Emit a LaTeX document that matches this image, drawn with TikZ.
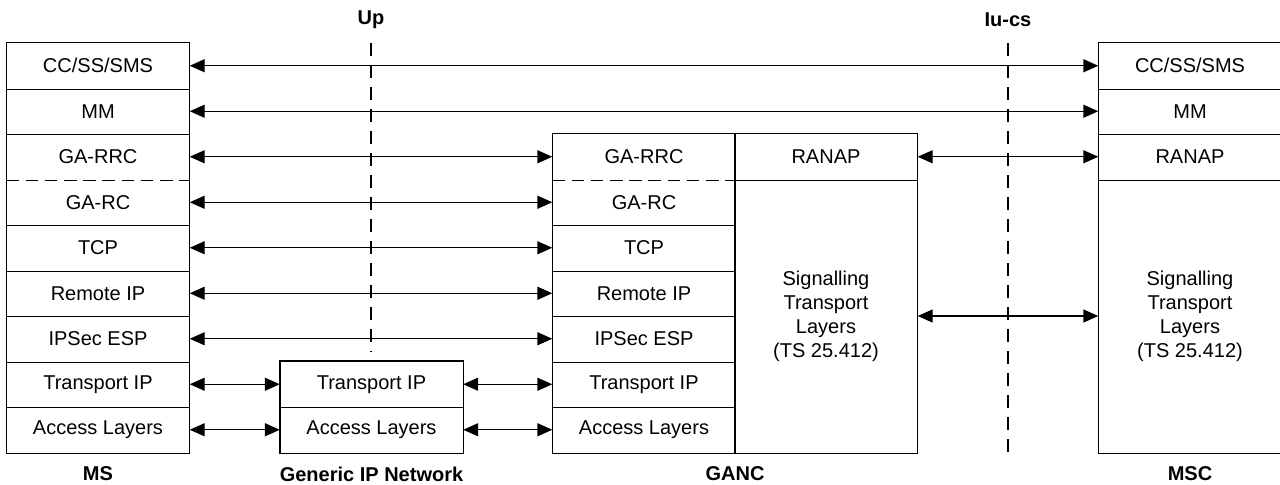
\documentclass[tikz,border=0pt]{standalone}
\usepackage{fontspec}
\setmainfont{Liberation Sans}
\usetikzlibrary{arrows.meta}

\begin{document}
\begin{tikzpicture}[x=0.5pt, y=-0.5pt, line width=0.7pt,
    cell/.style={minimum width=91pt, minimum height=22.75pt, inner sep=0pt},
    tall/.style={cell, minimum height=136.5pt, align=center},
    link/.style={{Triangle[length=7.5pt,width=6.5pt]}-{Triangle[length=7.5pt,width=6.5pt]}},
    iface/.style={dash pattern=on 6.5pt off 4.5pt, line width=0.6pt},
    split/.style={dash pattern=on 6.3pt off 3.3pt},
    title/.style={font=\bfseries}]
    \useasboundingbox (0,0) rectangle (1280,484);

    % --- MS stack ---
    \foreach \t [count=\i] in {{CC/SS/SMS},MM,GA-RRC,GA-RC,TCP,Remote IP,IPSec ESP,Transport IP,Access Layers}
        \node[cell] (ms\i) at (98, {43+45.5*(\i-0.5)}) {\t};
    \draw (ms1.north west) rectangle (ms9.south east);
    \foreach \i in {1,2,4,5,6,7,8} \draw (ms\i.south west) -- (ms\i.south east);
    \draw[split] (ms3.south west) -- (ms3.south east);

    % --- Generic IP Network ---
    \node[cell] (ip1) at (371.5, 384.25) {Transport IP};
    \node[cell] (ip2) at (371.5, 429.75) {Access Layers};
    \draw (ip1.north west) rectangle (ip2.south east);
    \draw (ip1.south west) -- (ip1.south east);

    % --- GANC ---
    \foreach \t [count=\i from 3] in {GA-RRC,GA-RC,TCP,Remote IP,IPSec ESP,Transport IP,Access Layers}
        \node[cell] (ga\i) at (644, {43+45.5*(\i-0.5)}) {\t};
    \node[cell] (ranap1) at (826, 156.75) {RANAP};
    \node[tall] (stl1) at (826, 316) {Signalling\\Transport\\Layers\\(TS 25.412)};
    \draw (ga3.north west) rectangle (ga9.south east);
    \draw (ranap1.north west) rectangle (stl1.south east);
    \draw (ranap1.south west) -- (ranap1.south east);
    \foreach \i in {4,...,8} \draw (ga\i.south west) -- (ga\i.south east);
    \draw[split] (ga3.south west) -- (ga3.south east);

    % --- MSC ---
    \node[cell] (msc1) at (1190, 65.75) {CC/SS/SMS};
    \node[cell] (msc2) at (1190, 111.25) {MM};
    \node[cell] (msc3) at (1190, 156.75) {RANAP};
    \node[tall] (msc4) at (1190, 316) {Signalling\\Transport\\Layers\\(TS 25.412)};
    \draw (msc1.north west) rectangle (msc4.south east);
    \foreach \i in {1,2,3} \draw (msc\i.south west) -- (msc\i.south east);

    % --- interfaces Up and Iu-cs ---
    \node[title] (up) at (371, 20) {Up};
    \node[title] (iucs) at (1008, 20) {Iu-cs};
    \coordinate (uptop) at (371, 43);   \coordinate (upbot) at (371, 352);
    \coordinate (iutop) at (1008, 43);  \coordinate (iubot) at (1008, 453);
    \draw[iface] (uptop) -- (upbot);
    \draw[iface] (iutop) -- (iubot);

    % --- peer links ---
    \draw[link] (ms1.east) -- (msc1.west);
    \draw[link] (ms2.east) -- (msc2.west);
    \foreach \i in {3,...,7} \draw[link] (ms\i.east) -- (ga\i.west);
    \foreach \i/\j in {8/1,9/2} {
        \draw[link] (ms\i.east) -- (ip\j.west);
        \draw[link] (ip\j.east) -- (ga\i.west);
    }
    \draw[link] (ranap1.east) -- (msc3.west);
    \draw[link] (stl1.east) -- (msc4.west);

    % --- entity names ---
    \node[title] (msname) at (98, 474) {MS};
    \node[title] (ipname) at (371.5, 474) {Generic IP Network};
    \node[title] (ganame) at (735, 474) {GANC};
    \node[title] (mscname) at (1190, 474) {MSC};
\end{tikzpicture}
\end{document}
